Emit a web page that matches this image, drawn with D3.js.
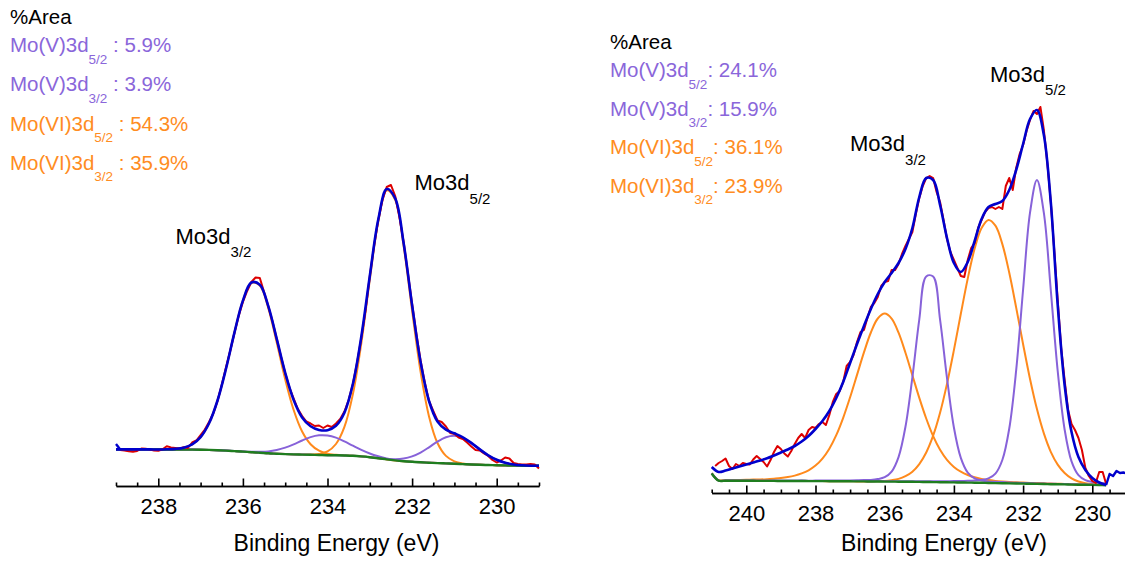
<!DOCTYPE html>
<html>
<head>
<meta charset="utf-8">
<script src="https://cdn.jsdelivr.net/npm/d3@7"></script>
<style>
  html, body { margin: 0; padding: 0; background: #ffffff; }
  svg { display: block; font-family: "Liberation Sans", Arial, sans-serif; }
  text { white-space: pre; }
</style>
</head>
<body>
<svg id="chart" width="1125" height="563"></svg>
<script>
// ================= Sample A (left spectrum) =================
// Fit grid: 239.0 eV down to 229.0 eV, 0.2 eV step
const leftFitStart = 239.0, leftFitStep = 0.2;
const leftBackground = [22.6,22.6,22.6,22.6,22.6,22.5,22.5,22.5,22.4,22.4,22.3,22.1,21.8,21.4,20.9,20.4,19.8,19.3,18.7,18.3,17.9,17.6,17.4,17.2,17.0,16.8,16.7,16.5,16.2,15.6,14.8,13.8,12.6,11.6,10.8,10.2,9.7,9.3,8.9,8.6,8.3,7.9,7.5,7.2,7.0,6.8,6.6,6.4,6.3,6.2,6.2];
// component heights above the background
const leftMoVI_3d32 = [0,0,0,0,0,0,0.2,0.6,1.9,5.2,12.6,26.6,49.7,81.8,118.5,150.9,169.3,167.1,145.2,111.1,74.8,44.4,23.1,10.6,4.3,1.5,0.5,0.1,0,0,0,0,0,0,0,0,0,0,0,0,0,0,0,0,0,0,0,0,0,0,0];
const leftMoVI_3d52 = [0,0,0,0,0,0,0,0,0,0,0,0,0,0,0,0,0,0,0,0,0,0,0,0.3,1.1,3.8,11.3,28.6,61.7,113.4,177.5,236.7,269.0,260.6,215.1,151.2,90.6,46.3,20.1,7.5,2.4,0.6,0.1,0,0,0,0,0,0,0,0];
const leftMoV_3d32  = [0,0,0,0,0,0,0,0,0,0,0,0,0,0,0,0.1,0.4,0.9,1.9,3.7,6.5,10.1,14.1,17.7,19.7,19.7,17.7,14.1,10.1,6.5,3.7,1.9,0.9,0.4,0.2,0,0,0,0,0,0,0,0,0,0,0,0,0,0,0,0];
const leftMoV_3d52  = [0,0,0,0,0,0,0,0,0,0,0,0,0,0,0,0,0,0,0,0,0,0,0,0,0,0,0,0,0,0,0,0,0.4,1.1,2.6,5.4,9.7,15.4,21.5,26.2,28.0,26.2,21.5,15.4,9.7,5.4,2.6,1.1,0.4,0.1,0];
const leftEnvelope  = [22.6,22.6,22.6,22.6,22.6,22.5,22.7,23.1,24.3,27.6,34.9,48.7,71.5,103.2,139.4,171.4,189.5,187.3,165.8,133.1,99.2,72.1,54.6,45.8,42.1,41.8,46.2,59.3,88.0,135.5,196.0,252.4,282.9,273.7,228.7,166.8,110.0,71.0,50.5,42.3,38.7,34.7,29.1,22.6,16.7,12.2,9.2,7.5,6.7,6.3,6.2];
// Measured counts: 238.9 eV down to 229.0 eV, 0.1 eV step
const leftRawStart = 238.9, leftRawStep = 0.1;
const leftRaw = [22.0,21.5,20.8,20.2,21.0,23.5,23.2,22.4,21.6,21.2,
  22.8,25.8,24.6,24.0,23.4,24.8,24.1,29.5,31.5,37.0,
  42.5,50.0,58.5,71.0,87.0,104.5,121.0,139.0,156.0,170.0,
  181.0,190.0,194.5,194.0,180.0,166.0,150.5,133.0,115.5,99.0,
  84.5,73.5,63.0,56.0,50.5,48.5,46.0,46.5,44.0,46.5,
  45.0,48.5,53.0,60.5,72.0,88.0,109.5,134.0,162.0,196.0,
  226.0,252.0,272.0,285.0,287.0,276.0,255.0,230.0,199.0,168.0,
  138.5,111.5,89.5,71.0,61.0,51.5,50.0,45.5,39.0,38.0,
  34.5,33.0,29.5,25.5,22.0,21.5,18.5,16.0,12.0,9.5,
  11.5,14.5,13.5,9.0,8.0,7.5,7.5,8.0,7.5,3.5];
// counts outside the fit window
const leftEdgeEnergy = [239.0, 238.9];
const leftEdgeCounts = [28.0, 22.6];
const leftAreaPct = [5.9, 3.9, 54.3, 35.9];

// ================= Sample B (right spectrum) =================
// Fit grid: 241.0 eV down to 229.6 eV, 0.2 eV step
const rightFitStart = 241.0, rightFitStep = 0.2;
const rightBackground = [16.5,9.3,9.3,9.3,9.2,9.2,9.2,9.1,9.1,9.1,9.0,9.0,9.0,9.0,8.9,8.9,8.9,8.8,8.8,8.7,8.7,8.6,8.6,8.5,8.5,8.4,8.4,8.3,8.3,8.2,8.1,8.0,7.9,7.8,7.7,7.6,7.5,7.4,7.3,7.2,7.0,6.9,6.8,6.6,6.5,6.4,6.2,6.1,6.0,5.8,5.7,5.6,5.4,5.3,5.2,5.1,5.0,4.8];
const rightMoVI_3d32 = [0.5,0.6,0.7,0.8,0.9,1.0,1.2,1.4,1.7,2.2,2.9,3.9,5.4,7.6,10.8,15.5,22.5,32.5,46.0,63.5,84.0,106.5,129.0,149.0,163.0,168.0,163.0,149.0,129.0,106.5,84.0,63.5,46.0,32.5,22.5,15.5,10.8,7.6,5.4,3.9,2.9,2.2,1.7,1.4,1.2,1.0,0.9,0.8,0.7,0.6,0.5,0.5,0.4,0.4,0.4,0.3,0.3,0.3];
const rightMoVI_3d52 = [0,0,0,0,0,0,0,0,0,0,0,0,0,0,0,0,0,0,0,0,0,0,0,0.1,0.3,0.6,1.4,2.8,5.5,10.1,17.8,29.5,46.4,69.4,98.4,132.3,168.7,204.0,234.1,254.7,263.0,257.4,239.1,210.6,175.9,139.4,104.8,74.8,50.6,32.4,19.7,11.4,6.2,3.2,1.6,0.7,0.3,0.1];
const rightMoV_3d32  = [0.1,0.1,0.1,0.1,0.2,0.2,0.2,0.2,0.2,0.3,0.3,0.3,0.3,0.4,0.4,0.5,0.5,0.6,0.7,0.8,0.9,1.1,1.3,1.6,2.4,4.4,10.0,24.6,54.9,104.5,162.5,205.5,205.5,162.5,104.5,54.9,24.6,10.0,4.4,2.4,1.6,1.3,1.1,0.9,0.8,0.7,0.6,0.5,0.5,0.4,0.4,0.4,0.3,0.3,0.3,0.3,0.3,0.2];
const rightMoV_3d52  = [0.1,0.1,0.1,0.1,0.1,0.1,0.1,0.1,0.2,0.2,0.2,0.2,0.2,0.2,0.2,0.2,0.2,0.2,0.2,0.2,0.3,0.3,0.3,0.3,0.4,0.4,0.4,0.45,0.5,0.6,0.65,0.7,0.8,1.0,1.1,1.3,1.5,1.8,2.2,2.9,4.6,9.5,23.2,54.9,113.3,194.1,271.1,304.0,271.1,194.1,113.3,54.9,23.2,9.5,4.6,2.9,2.2,1.8];
const rightEnvelope  = [23.0,18.0,19.5,21.5,23.5,25.5,27.5,29.5,31.7,34.5,37.5,40.5,44.0,48.5,54.0,61.0,69.0,79.0,92.0,108.0,127.0,146.0,164.0,181.0,196.0,208.0,217.0,227.0,241.0,262.0,293.0,312.0,310.0,285.0,252.0,227.0,218.0,228.0,249.0,271.0,283.0,286.0,289.0,300.0,320.0,346.0,371.0,380.0,355.0,288.0,185.0,105.0,58.0,33.0,20.0,12.0,7.5,5.0];
// Measured counts: 240.9 eV down to 229.6 eV, 0.1 eV step
const rightRawStart = 240.9, rightRawStep = 0.1;
const rightRaw = [24.0,27.0,29.0,31.5,24.0,21.0,26.0,24.0,27.0,26.0,
  25.5,30.5,34.0,31.0,28.0,23.5,30.0,38.0,44.0,41.0,
  36.5,33.5,39.0,46.0,52.0,56.0,52.0,60.0,63.0,62.0,
  66.0,68.0,65.0,75.0,88.0,96.0,99.0,108.0,124.0,128.0,
  135.0,148.0,158.0,160.0,172.0,183.0,187.0,193.0,204.0,208.0,
  209.0,220.0,220.0,226.0,236.0,244.0,251.0,258.0,276.0,292.0,
  304.0,312.0,314.0,312.0,298.0,288.0,270.0,251.0,238.0,230.0,
  222.0,214.0,213.0,230.0,242.0,247.0,262.0,270.0,278.0,282.0,
  283.0,281.0,283.0,281.0,304.0,312.0,300.0,322.0,336.0,345.0,
  359.0,370.0,379.0,376.0,383.0,360.0,327.0,288.0,240.0,190.0,
  142.0,110.0,80.0,66.0,60.0,52.0,40.0,22.0,14.0,9.0,
  7.0,18.0,18.0,6.0];
const rightEdgeEnergy = [229.6, 229.5, 229.4, 229.3, 229.2, 229.1, 229.0];
const rightEdgeCounts = [5.0, 16.0, 14.0, 19.0, 17.0, 17.5, 16.5];
const rightAreaPct = [24.1, 15.9, 36.1, 23.9];

// ================= shared labels =================
const componentNames = ["Mo(V)3d", "Mo(V)3d", "Mo(VI)3d", "Mo(VI)3d"];
const componentSubs  = ["5/2", "3/2", "5/2", "3/2"];
const leftTicks  = [238, 236, 234, 232, 230];
const rightTicks = [240, 238, 236, 234, 232, 230];
const axisTitle = "Binding Energy (eV)";

const COLORS = {
  mov: "#8762d9", movi: "#ff8a1c", raw: "#dd0000", fit: "#0000cc", bg: "#1f7d1f",
  movText: "#8a66da", moviText: "#ff8c22"
};

const svg = d3.select("#chart");
const FONT = '"Liberation Sans", Arial, sans-serif';

function energies(start, step, n) {
  return d3.range(n).map(i => +(start - step * i).toFixed(2));
}

function drawPanel(cfg) {
  const x = d3.scaleLinear().domain(cfg.xDomain).range(cfg.xRange);
  const y = d3.scaleLinear().domain(cfg.yDomain).range(cfg.yRange);
  const g = svg.append("g");
  const fitE = energies(cfg.fitStart, cfg.fitStep, cfg.background.length);
  const smooth = d3.line().x(d => x(d[0])).y(d => y(d[1])).curve(d3.curveCatmullRom.alpha(0.5));
  const straight = d3.line().x(d => x(d[0])).y(d => y(d[1]));

  const stacked = comp => fitE.map((e, i) => [e, cfg.background[i] + comp[i]]);

  // fitted components (drawn on top of the background)
  [[cfg.movi32, COLORS.movi], [cfg.movi52, COLORS.movi], [cfg.mov32, COLORS.mov], [cfg.mov52, COLORS.mov]]
    .forEach(([comp, color]) => {
      g.append("path").attr("d", smooth(stacked(comp)))
        .attr("fill", "none").attr("stroke", color).attr("stroke-width", 2);
    });

  // background
  g.append("path").attr("d", smooth(fitE.map((e, i) => [e, cfg.background[i]])))
    .attr("fill", "none").attr("stroke", COLORS.bg).attr("stroke-width", 2.4);

  // measured spectrum
  const rawE = energies(cfg.rawStart, cfg.rawStep, cfg.raw.length);
  g.append("path").attr("d", straight(rawE.map((e, i) => [e, cfg.raw[i]])))
    .attr("fill", "none").attr("stroke", COLORS.raw).attr("stroke-width", 2)
    .attr("stroke-linejoin", "round");

  // envelope and the counts outside the fit window
  g.append("path").attr("d", smooth(fitE.map((e, i) => [e, cfg.envelope[i]])))
    .attr("fill", "none").attr("stroke", COLORS.fit).attr("stroke-width", 2.6);
  g.append("path").attr("d", straight(cfg.edgeE.map((e, i) => [e, cfg.edgeC[i]])))
    .attr("fill", "none").attr("stroke", COLORS.fit).attr("stroke-width", 2.4)
    .attr("stroke-linejoin", "round");

  // axis: minor ticks every 0.5 eV, labelled majors
  const lo = Math.min(...cfg.xDomain), hi = Math.max(...cfg.xDomain);
  const minor = d3.range(lo, hi + 0.001, 0.5).filter(v => !cfg.ticks.includes(v));
  const gMinor = svg.append("g").attr("transform", `translate(0,${cfg.axisY})`)
    .call(d3.axisBottom(x).tickValues(minor).tickSizeInner(-3.5).tickSizeOuter(0).tickFormat(""));
  const gMajor = svg.append("g").attr("transform", `translate(0,${cfg.axisY})`)
    .call(d3.axisBottom(x).tickValues(cfg.ticks).tickSizeInner(-7.5).tickSizeOuter(0)
      .tickPadding(12.5).tickFormat(d3.format("d")));
  [gMinor, gMajor].forEach(a => {
    a.selectAll("path.domain").attr("stroke", "#000").attr("stroke-width", 1.6);
    a.selectAll(".tick line").attr("stroke", "#000").attr("stroke-width", 1.6);
  });
  gMajor.selectAll(".tick text").attr("font-family", FONT).attr("font-size", 22).attr("fill", "#000");

  svg.append("text").attr("x", cfg.titleX).attr("y", cfg.titleY)
    .attr("text-anchor", "middle").attr("font-family", FONT).attr("font-size", 23)
    .attr("fill", "#000").text(axisTitle);

  // peak labels
  cfg.peakLabels.forEach(p => {
    const t = svg.append("text").attr("x", p.x).attr("y", p.y)
      .attr("font-family", FONT).attr("font-size", 22).attr("fill", "#000");
    t.append("tspan").text("Mo3d");
    t.append("tspan").attr("dy", 13.5).attr("font-size", 15).text(p.sub);
  });

  // %Area legend
  svg.append("text").attr("x", cfg.legendX).attr("y", cfg.legendTop)
    .attr("font-family", FONT).attr("font-size", 20.5).attr("fill", "#000").text("%Area");
  cfg.pct.forEach((v, i) => {
    const color = i < 2 ? COLORS.movText : COLORS.moviText;
    const t = svg.append("text").attr("x", cfg.legendX).attr("y", cfg.legendY0 + i * cfg.legendDy)
      .attr("font-family", FONT).attr("font-size", 20.5).attr("fill", color);
    t.append("tspan").text(componentNames[i]);
    t.append("tspan").attr("dy", 11.5).attr("font-size", 13.5).text(componentSubs[i]);
    t.append("tspan").attr("dy", -11.5).text(cfg.sep + ": " + v.toFixed(1) + "%");
  });
}

drawPanel({
  xDomain: [239, 229], xRange: [116, 539],
  yDomain: [0, 300], yRange: [472, 172],
  fitStart: leftFitStart, fitStep: leftFitStep,
  background: leftBackground, envelope: leftEnvelope,
  movi32: leftMoVI_3d32, movi52: leftMoVI_3d52, mov32: leftMoV_3d32, mov52: leftMoV_3d52,
  rawStart: leftRawStart, rawStep: leftRawStep, raw: leftRaw,
  edgeE: leftEdgeEnergy, edgeC: leftEdgeCounts,
  ticks: leftTicks, axisY: 486,
  titleX: 336.5, titleY: 551,
  peakLabels: [{x: 175.5, y: 243.5, sub: "3/2"}, {x: 414.5, y: 190, sub: "5/2"}],
  pct: leftAreaPct, legendX: 10, legendTop: 23.5, legendY0: 52, legendDy: 39.3, sep: " "
});

drawPanel({
  xDomain: [241, 229], xRange: [711.7, 1126.9],
  yDomain: [0, 400], yRange: [490, 90],
  fitStart: rightFitStart, fitStep: rightFitStep,
  background: rightBackground, envelope: rightEnvelope,
  movi32: rightMoVI_3d32, movi52: rightMoVI_3d52, mov32: rightMoV_3d32, mov52: rightMoV_3d52,
  rawStart: rightRawStart, rawStep: rightRawStep, raw: rightRaw,
  edgeE: rightEdgeEnergy, edgeC: rightEdgeCounts,
  ticks: rightTicks, axisY: 493,
  titleX: 944, titleY: 550.5,
  peakLabels: [{x: 850, y: 151, sub: "3/2"}, {x: 990, y: 81.5, sub: "5/2"}],
  pct: rightAreaPct, legendX: 610, legendTop: 48.5, legendY0: 77, legendDy: 38.6, sep: ""
});
</script>
</body>
</html>
